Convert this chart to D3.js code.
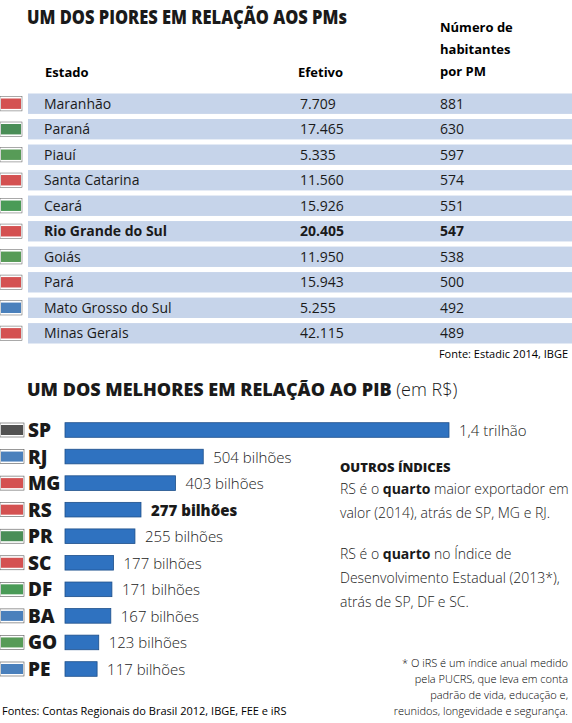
<!DOCTYPE html><html><head><meta charset="utf-8">
<script src="https://cdn.jsdelivr.net/npm/d3@7"></script>
<style>body{margin:0;background:#fff}text{font-family:"Open Sans",sans-serif}</style></head><body>
<script>
const states=["Maranhão","Paraná","Piauí","Santa Catarina","Ceará","Rio Grande do Sul","Goiás","Pará","Mato Grosso do Sul","Minas Gerais"];
const efetivo=["7.709","17.465","5.335","11.560","15.926","20.405","11.950","15.943","5.255","42.115"];
const habPM=[881,630,597,574,551,547,538,500,492,489];
const flagColors1=["#c33","#2a7a3a","#3a8a3a","#c33","#2a8a3a","#c33","#3a8a3a","#c33","#2a6ab0","#c33"];
const ufs=["SP","RJ","MG","RS","PR","SC","DF","BA","GO","PE"];
const pib=[1400,504,403,277,255,177,171,167,123,117];
const pibLabels=["1,4 trilhão","504 bilhões","403 bilhões","277 bilhões","255 bilhões","177 bilhões","171 bilhões","167 bilhões","123 bilhões","117 bilhões"];
const flagColors2=["#333","#2a6ab0","#c33","#c33","#2a7a3a","#c33","#2a8a3a","#2a6ab0","#3a8a3a","#2a6ab0"];
const W=572,H=723,B="#1a1a1a";
const svg=d3.select("body").append("svg").attr("width",W).attr("height",H);
svg.append("text").attr("x",27).attr("y",24).attr("font-size",19).attr("font-weight",800).attr("fill",B).attr("textLength",320).attr("lengthAdjust","spacingAndGlyphs").text("UM DOS PIORES EM RELAÇÃO AOS PMs");
svg.append("text").attr("x",45).attr("y",77).attr("font-size",13).attr("font-weight",700).text("Estado");
svg.append("text").attr("x",298).attr("y",77).attr("font-size",13).attr("font-weight",700).text("Efetivo");
["Número de","habitantes","por PM"].forEach((t,i)=>svg.append("text").attr("x",440).attr("y",32+i*22).attr("font-size",13).attr("font-weight",700).text(t));
const y1=d3.scaleBand().domain(states).range([93.5,343.5]).paddingInner(0.2);
const g1=svg.append("g");
states.forEach((s,i)=>{
 const y=y1(s),h=y1.bandwidth(),bold=i===5;
 g1.append("rect").attr("x",28).attr("y",y).attr("width",W-28).attr("height",h).attr("fill","#c6d4ea");
 g1.append("rect").attr("x",0).attr("y",y+3).attr("width",22).attr("height",h-6).attr("fill","#fff").attr("stroke","#555").attr("stroke-width",0.5);
 g1.append("rect").attr("x",1).attr("y",y+5).attr("width",20).attr("height",h-10).attr("fill",flagColors1[i]).attr("opacity",0.85);
 const c=y+h/2+5;
 [[44,s],[300,efetivo[i]],[440,habPM[i]]].forEach(([x,t])=>g1.append("text").attr("x",x).attr("y",c).attr("font-size",14).attr("font-weight",bold?700:400).attr("fill",B).text(t));
});
svg.append("text").attr("x",568).attr("y",358).attr("text-anchor","end").attr("font-size",11).text("Fonte: Estadic 2014, IBGE");
const t2=svg.append("text").attr("x",27).attr("y",396).attr("font-size",18).attr("fill",B);
t2.append("tspan").attr("font-weight",800).text("UM DOS MELHORES EM RELAÇÃO AO PIB ");
t2.append("tspan").attr("font-weight",300).text("(em R$)");
const x2=d3.scaleLinear().domain([0,1400]).range([65,449]);
const y2=d3.scaleBand().domain(ufs).range([422.7,676.3]).paddingInner(0.45);
const g2=svg.append("g");
ufs.forEach((u,i)=>{
 const y=y2(u),h=y2.bandwidth(),c=y+h/2;
 g2.append("rect").attr("x",0).attr("y",c-7).attr("width",24).attr("height",14).attr("fill","#fff").attr("stroke","#555").attr("stroke-width",0.6);
 g2.append("rect").attr("x",1).attr("y",c-5).attr("width",22).attr("height",10).attr("fill",flagColors2[i]).attr("opacity",0.85);
 g2.append("text").attr("x",28).attr("y",c+7).attr("font-size",19).attr("font-weight",800).attr("fill",B).text(u);
 g2.append("rect").attr("x",x2(0)).attr("y",y).attr("width",x2(pib[i])-x2(0)).attr("height",h).attr("fill","#2f72c0").attr("stroke","#1d4f8a").attr("stroke-width",0.8);
 g2.append("text").attr("x",x2(pib[i])+10).attr("y",c+6).attr("font-size",15).attr("font-weight",i===3?800:300).attr("fill",B).text(pibLabels[i]);
});
const tx=svg.append("g").attr("font-size",14).attr("fill",B);
tx.append("text").attr("x",340).attr("y",472).attr("font-weight",800).attr("font-size",13).text("OUTROS ÍNDICES");
function rich(y,parts){const t=tx.append("text").attr("x",340).attr("y",y).attr("font-weight",300);parts.forEach(p=>t.append("tspan").attr("font-weight",p[1]?700:300).text(p[0]));}
rich(494,[["RS é o "],["quarto",1],[" maior exportador em"]]);
rich(518,[["valor (2014), atrás de SP, MG e RJ."]]);
rich(559,[["RS é o "],["quarto",1],[" no Índice de"]]);
rich(583,[["Desenvolvimento Estadual (2013*),"]]);
rich(607,[["atrás de SP, DF e SC."]]);
["* O iRS é um índice anual medido","pela PUCRS, que leva em conta","padrão de vida, educação e,","reunidos, longevidade e segurança."].forEach((t,i)=>svg.append("text").attr("x",568).attr("y",667+i*16).attr("text-anchor","end").attr("font-size",11).attr("font-weight",300).text(t));
svg.append("text").attr("x",2).attr("y",715).attr("font-size",11).text("Fontes:  Contas Regionais do Brasil 2012, IBGE, FEE e iRS");
</script></body></html>
